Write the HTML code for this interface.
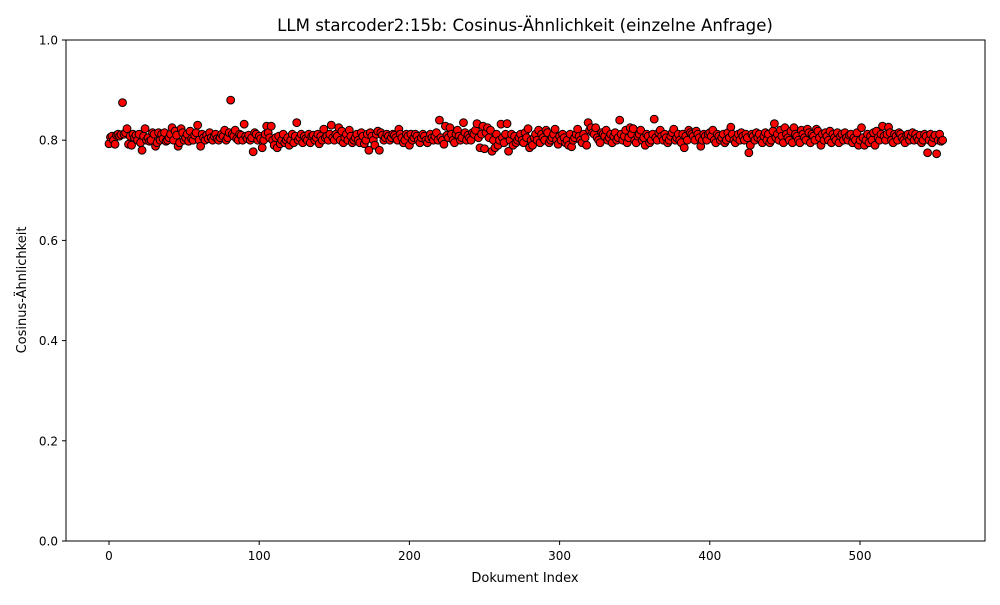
<!DOCTYPE html>
<html><head><meta charset="utf-8"><style>
body{margin:0;background:#fff;font-family:"Liberation Sans","DejaVu Sans",sans-serif;}
svg text{font-family:"DejaVu Sans","Liberation Sans",sans-serif;}
</style></head><body>
<svg id="chart" width="1000" height="600" xmlns="http://www.w3.org/2000/svg">
<rect width="1000" height="600" fill="#fff"/>
<text x="525" y="31" text-anchor="middle" font-size="16.6">LLM starcoder2:15b: Cosinus-Ähnlichkeit (einzelne Anfrage)</text>
<g id="marks"></g>
<rect x="66" y="40" width="919" height="501" fill="none" stroke="#000" stroke-width="1"/>
<g id="xt"></g>
<g id="yt"></g>
<text x="525" y="582" text-anchor="middle" font-size="13">Dokument Index</text>
<text transform="translate(26,290) rotate(-90)" text-anchor="middle" font-size="13">Cosinus-Ähnlichkeit</text>
</svg>
<script>
const xTicks=[0,100,200,300,400,500];
const yTicks=[0.0,0.2,0.4,0.6,0.8,1.0];
const yTickLabels=["0.0","0.2","0.4","0.6","0.8","1.0"];
const similarity=[
.793,.806,.808,.800,.792,.810,.812,.808,.811,.875,.812,.815,.823,.792,.808,.790,.812,.805,.810,.800,
.812,.795,.780,.808,.823,.800,.805,.798,.800,.815,.812,.788,.795,.815,.800,.812,.803,.815,.798,.800,
.805,.812,.825,.800,.818,.810,.788,.795,.823,.815,.800,.805,.812,.798,.818,.803,.800,.810,.815,.830,
.800,.788,.812,.805,.800,.810,.803,.815,.805,.800,.808,.812,.803,.800,.805,.812,.808,.820,.800,.805,
.815,.880,.812,.808,.820,.803,.800,.812,.810,.800,.832,.808,.803,.810,.800,.805,.777,.815,.812,.800,
.808,.803,.785,.800,.812,.828,.815,.805,.828,.800,.790,.805,.785,.808,.793,.800,.812,.795,.800,.805,
.790,.800,.812,.795,.808,.835,.800,.805,.812,.795,.808,.803,.800,.812,.795,.808,.810,.800,.805,.812,
.793,.808,.800,.822,.805,.808,.800,.812,.830,.805,.800,.812,.808,.825,.800,.818,.795,.805,.812,.800,
.820,.808,.795,.800,.805,.812,.800,.795,.815,.808,.793,.800,.812,.780,.815,.808,.800,.790,.812,.818,
.780,.815,.810,.800,.805,.812,.808,.800,.805,.812,.810,.805,.800,.822,.812,.805,.795,.800,.812,.808,
.790,.812,.800,.805,.812,.808,.800,.795,.805,.812,.808,.800,.795,.803,.812,.805,.800,.808,.815,.800,
.840,.805,.800,.792,.828,.810,.805,.825,.812,.800,.795,.812,.820,.808,.800,.805,.835,.815,.800,.810,
.805,.800,.815,.812,.820,.833,.805,.785,.812,.828,.783,.815,.825,.805,.820,.778,.800,.785,.812,.790,
.800,.832,.805,.795,.812,.833,.778,.800,.812,.790,.808,.795,.800,.805,.812,.800,.795,.815,.805,.823,
.785,.800,.790,.805,.812,.800,.820,.795,.812,.805,.800,.820,.815,.795,.800,.805,.812,.822,.800,.792,
.808,.800,.812,.805,.795,.800,.790,.812,.787,.800,.805,.812,.822,.808,.800,.795,.812,.805,.790,.835,
.820,.825,.815,.812,.825,.805,.800,.795,.815,.812,.808,.820,.800,.805,.812,.795,.808,.815,.800,.805,
.840,.812,.800,.808,.820,.795,.805,.825,.812,.823,.800,.795,.808,.812,.820,.800,.805,.790,.812,.808,
.795,.800,.812,.842,.805,.800,.815,.820,.808,.800,.812,.805,.795,.800,.808,.815,.822,.800,.805,.812,
.800,.795,.812,.785,.808,.800,.820,.815,.812,.808,.800,.818,.812,.805,.788,.800,.812,.808,.800,.812,
.815,.808,.820,.800,.795,.812,.808,.800,.805,.812,.795,.800,.815,.805,.826,.812,.800,.795,.805,.812,
.800,.815,.808,.800,.812,.805,.775,.790,.812,.808,.800,.815,.805,.812,.800,.795,.808,.815,.800,.812,
.795,.800,.818,.833,.805,.812,.800,.820,.808,.795,.825,.812,.805,.800,.818,.795,.825,.812,.808,.800,
.795,.820,.812,.805,.800,.822,.815,.795,.812,.808,.800,.822,.818,.805,.790,.812,.800,.815,.808,.800,
.818,.795,.812,.805,.800,.815,.795,.808,.812,.800,.815,.805,.800,.810,.812,.795,.805,.800,.815,.790,
.800,.825,.805,.790,.800,.812,.795,.808,.800,.815,.790,.818,.805,.800,.812,.828,.808,.800,.812,.826,
.815,.800,.795,.812,.808,.800,.815,.812,.805,.800,.795,.810,.812,.800,.808,.815,.800,.812,.805,.800,
.810,.795,.800,.812,.808,.775,.800,.812,.795,.805,.810,.773,.800,.812,.798,.800
];
const NS="http://www.w3.org/2000/svg";
const xScale=v=>109+v*(860-109)/500;
const yScale=v=>541-v*501;
const marks=document.getElementById('marks');
similarity.forEach((v,i)=>{
  const c=document.createElementNS(NS,'circle');
  c.setAttribute('cx',xScale(i));c.setAttribute('cy',yScale(v));c.setAttribute('r',3.9);
  c.setAttribute('fill','#ff0000');c.setAttribute('stroke','#000');c.setAttribute('stroke-width','1');
  
  
  marks.appendChild(c);
});
const xt=document.getElementById('xt');
xTicks.forEach(t=>{
  const x=xScale(t);
  const l=document.createElementNS(NS,'line');
  l.setAttribute('x1',x);l.setAttribute('x2',x);l.setAttribute('y1',541);l.setAttribute('y2',545);l.setAttribute('stroke','#000');
  
  
  xt.appendChild(l);
  const s=document.createElementNS(NS,'text');
  s.setAttribute('x',x);s.setAttribute('y',560);s.setAttribute('text-anchor','middle');s.setAttribute('font-size','12');
  s.textContent=t;
  
  
  xt.appendChild(s);
});
const yt=document.getElementById('yt');
yTicks.forEach((t,i)=>{
  const y=yScale(t);
  const l=document.createElementNS(NS,'line');
  l.setAttribute('x1',62);l.setAttribute('x2',66);l.setAttribute('y1',y);l.setAttribute('y2',y);l.setAttribute('stroke','#000');
  
  
  yt.appendChild(l);
  const s=document.createElementNS(NS,'text');
  s.setAttribute('x',58);s.setAttribute('y',y+4.5);s.setAttribute('text-anchor','end');s.setAttribute('font-size','12');
  s.textContent=yTickLabels[i];
  
  
  yt.appendChild(s);
});
</script>
</body></html>
